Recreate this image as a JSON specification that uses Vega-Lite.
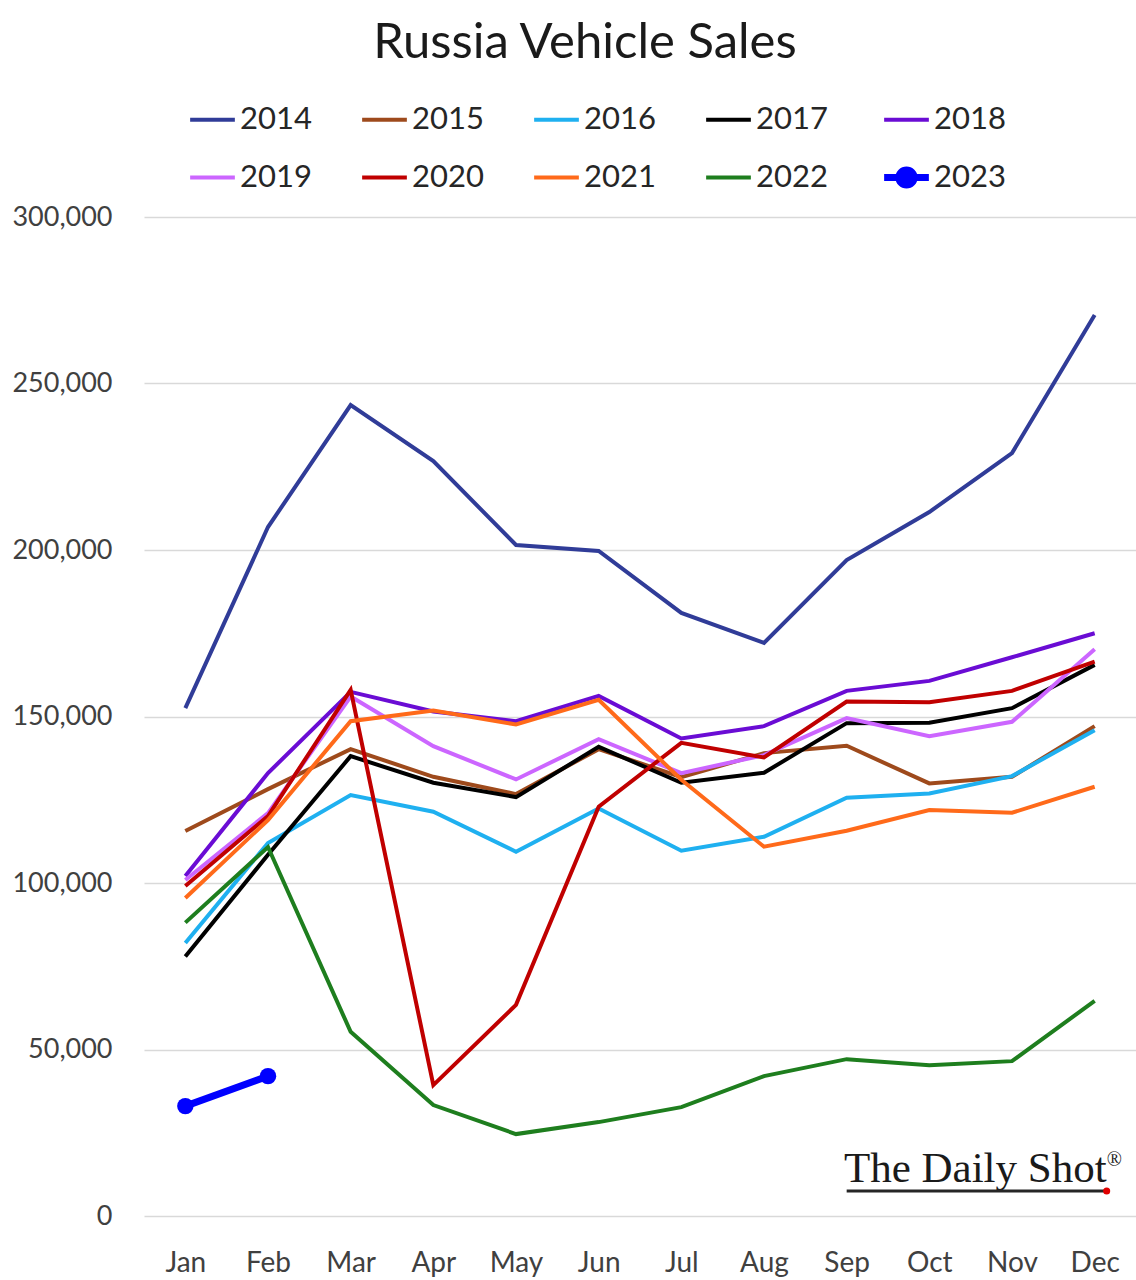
{
  "$schema": "https://vega.github.io/schema/vega-lite/v6.json",
  "width": 992,
  "height": 999,
  "autosize": "none",
  "padding": {"left": 144, "top": 217, "right": 0, "bottom": 64},
  "background": "white",
  "config": {"view": {"stroke": null}},
  "title": {
    "text": "Russia Vehicle Sales",
    "font": "Lato",
    "fontSize": 49,
    "fontWeight": "normal",
    "color": "#1a1a1a",
    "anchor": "middle",
    "dx": -55,
    "offset": 36
  },
  "data": {
    "values": [
      {"year": "2014", "month": "Jan", "sales": 152500}, {"year": "2014", "month": "Feb", "sales": 206900}, {"year": "2014", "month": "Mar", "sales": 243500}, {"year": "2014", "month": "Apr", "sales": 226700}, {"year": "2014", "month": "May", "sales": 201500}, {"year": "2014", "month": "Jun", "sales": 199700}, {"year": "2014", "month": "Jul", "sales": 181100}, {"year": "2014", "month": "Aug", "sales": 172100}, {"year": "2014", "month": "Sep", "sales": 197000}, {"year": "2014", "month": "Oct", "sales": 211400}, {"year": "2014", "month": "Nov", "sales": 229100}, {"year": "2014", "month": "Dec", "sales": 270600},
      {"year": "2015", "month": "Jan", "sales": 115600}, {"year": "2015", "month": "Feb", "sales": 128200}, {"year": "2015", "month": "Mar", "sales": 140200}, {"year": "2015", "month": "Apr", "sales": 131900}, {"year": "2015", "month": "May", "sales": 126700}, {"year": "2015", "month": "Jun", "sales": 140200}, {"year": "2015", "month": "Jul", "sales": 131800}, {"year": "2015", "month": "Aug", "sales": 139000}, {"year": "2015", "month": "Sep", "sales": 141200}, {"year": "2015", "month": "Oct", "sales": 129900}, {"year": "2015", "month": "Nov", "sales": 131900}, {"year": "2015", "month": "Dec", "sales": 147100},
      {"year": "2016", "month": "Jan", "sales": 82000}, {"year": "2016", "month": "Feb", "sales": 112000}, {"year": "2016", "month": "Mar", "sales": 126400}, {"year": "2016", "month": "Apr", "sales": 121400}, {"year": "2016", "month": "May", "sales": 109400}, {"year": "2016", "month": "Jun", "sales": 122400}, {"year": "2016", "month": "Jul", "sales": 109700}, {"year": "2016", "month": "Aug", "sales": 113900}, {"year": "2016", "month": "Sep", "sales": 125600}, {"year": "2016", "month": "Oct", "sales": 126900}, {"year": "2016", "month": "Nov", "sales": 132100}, {"year": "2016", "month": "Dec", "sales": 145900},
      {"year": "2017", "month": "Jan", "sales": 77900}, {"year": "2017", "month": "Feb", "sales": 108500}, {"year": "2017", "month": "Mar", "sales": 138100}, {"year": "2017", "month": "Apr", "sales": 130100}, {"year": "2017", "month": "May", "sales": 125800}, {"year": "2017", "month": "Jun", "sales": 140900}, {"year": "2017", "month": "Jul", "sales": 130100}, {"year": "2017", "month": "Aug", "sales": 133100}, {"year": "2017", "month": "Sep", "sales": 148000}, {"year": "2017", "month": "Oct", "sales": 148100}, {"year": "2017", "month": "Nov", "sales": 152500}, {"year": "2017", "month": "Dec", "sales": 165500},
      {"year": "2018", "month": "Jan", "sales": 102100}, {"year": "2018", "month": "Feb", "sales": 133000}, {"year": "2018", "month": "Mar", "sales": 157400}, {"year": "2018", "month": "Apr", "sales": 151500}, {"year": "2018", "month": "May", "sales": 148600}, {"year": "2018", "month": "Jun", "sales": 156200}, {"year": "2018", "month": "Jul", "sales": 143400}, {"year": "2018", "month": "Aug", "sales": 147100}, {"year": "2018", "month": "Sep", "sales": 157700}, {"year": "2018", "month": "Oct", "sales": 160700}, {"year": "2018", "month": "Nov", "sales": 167800}, {"year": "2018", "month": "Dec", "sales": 175000},
      {"year": "2019", "month": "Jan", "sales": 100900}, {"year": "2019", "month": "Feb", "sales": 121000}, {"year": "2019", "month": "Mar", "sales": 156000}, {"year": "2019", "month": "Apr", "sales": 141100}, {"year": "2019", "month": "May", "sales": 131100}, {"year": "2019", "month": "Jun", "sales": 143200}, {"year": "2019", "month": "Jul", "sales": 133000}, {"year": "2019", "month": "Aug", "sales": 138400}, {"year": "2019", "month": "Sep", "sales": 149500}, {"year": "2019", "month": "Oct", "sales": 144100}, {"year": "2019", "month": "Nov", "sales": 148400}, {"year": "2019", "month": "Dec", "sales": 170200},
      {"year": "2020", "month": "Jan", "sales": 99100}, {"year": "2020", "month": "Feb", "sales": 120100}, {"year": "2020", "month": "Mar", "sales": 158000}, {"year": "2020", "month": "Apr", "sales": 39300}, {"year": "2020", "month": "May", "sales": 63400}, {"year": "2020", "month": "Jun", "sales": 122900}, {"year": "2020", "month": "Jul", "sales": 142100}, {"year": "2020", "month": "Aug", "sales": 137700}, {"year": "2020", "month": "Sep", "sales": 154500}, {"year": "2020", "month": "Oct", "sales": 154300}, {"year": "2020", "month": "Nov", "sales": 157700}, {"year": "2020", "month": "Dec", "sales": 166500},
      {"year": "2021", "month": "Jan", "sales": 95500}, {"year": "2021", "month": "Feb", "sales": 118900}, {"year": "2021", "month": "Mar", "sales": 148600}, {"year": "2021", "month": "Apr", "sales": 151800}, {"year": "2021", "month": "May", "sales": 147600}, {"year": "2021", "month": "Jun", "sales": 155000}, {"year": "2021", "month": "Jul", "sales": 131000}, {"year": "2021", "month": "Aug", "sales": 110900}, {"year": "2021", "month": "Sep", "sales": 115700}, {"year": "2021", "month": "Oct", "sales": 121900}, {"year": "2021", "month": "Nov", "sales": 121100}, {"year": "2021", "month": "Dec", "sales": 128900},
      {"year": "2022", "month": "Jan", "sales": 88100}, {"year": "2022", "month": "Feb", "sales": 110800}, {"year": "2022", "month": "Mar", "sales": 55300}, {"year": "2022", "month": "Apr", "sales": 33300}, {"year": "2022", "month": "May", "sales": 24600}, {"year": "2022", "month": "Jun", "sales": 28200}, {"year": "2022", "month": "Jul", "sales": 32700}, {"year": "2022", "month": "Aug", "sales": 42000}, {"year": "2022", "month": "Sep", "sales": 47100}, {"year": "2022", "month": "Oct", "sales": 45300}, {"year": "2022", "month": "Nov", "sales": 46500}, {"year": "2022", "month": "Dec", "sales": 64600},
      {"year": "2023", "month": "Jan", "sales": 33000}, {"year": "2023", "month": "Feb", "sales": 42000}
    ]
  },
  "layer": [
    {
      "transform": [{"filter": "datum.year !== '2023'"}],
      "mark": {"type": "line", "strokeWidth": 4},
      "encoding": {
        "x": {
          "field": "month", "type": "ordinal",
          "sort": ["Jan", "Feb", "Mar", "Apr", "May", "Jun", "Jul", "Aug", "Sep", "Oct", "Nov", "Dec"],
          "scale": {"type": "point", "padding": 0.5},
          "axis": {"title": null, "labelAngle": 0, "labelFont": "Lato", "labelFontSize": 28, "labelColor": "#404040", "domain": false, "ticks": false, "labelPadding": 33, "grid": false}
        },
        "y": {
          "field": "sales", "type": "quantitative",
          "scale": {"domain": [0, 300000], "nice": false},
          "axis": {"title": null, "values": [0, 50000, 100000, 150000, 200000, 250000, 300000], "format": ",.0f", "labelFont": "Lato", "labelFontSize": 27, "labelColor": "#404040", "domain": false, "ticks": false, "labelPadding": 32, "gridColor": "#d9d9d9", "gridWidth": 1.5}
        },
        "color": {
          "field": "year", "type": "nominal",
          "scale": {
            "domain": ["2014", "2015", "2016", "2017", "2018", "2019", "2020", "2021", "2022", "2023"],
            "range": ["#303c98", "#9e4a1c", "#1fb0f0", "#000000", "#6a0cd4", "#cc66ff", "#c00000", "#ff6a1a", "#1e7e1e", "#0000ff"]
          },
          "legend": {
            "title": null,
            "orient": "none",
            "legendX": 53,
            "legendY": -113,
            "direction": "horizontal",
            "columns": 5,
            "columnPadding": 42,
            "rowPadding": 20,
            "padding": 0,
            "symbolType": {"expr": "datum.value === '2023' ? 'M-1,0L1,0M0.34,0A0.34,0.34,0,1,1,-0.34,0A0.34,0.34,0,1,1,0.34,0Z' : 'stroke'"},
            "symbolFillColor": {"expr": "datum.value === '2023' ? '#0000ff' : 'transparent'"},
            "symbolStrokeWidth": {"expr": "datum.value === '2023' ? 7 : 4"},
            "symbolSize": 2000,
            "labelFont": "Lato",
            "labelFontSize": 31,
            "labelColor": "#262626",
            "labelOffset": 12
          }
        }
      }
    },
    {
      "transform": [{"filter": "datum.year === '2023'"}],
      "mark": {"type": "line", "strokeWidth": 7},
      "encoding": {
        "x": {"field": "month", "type": "ordinal", "sort": ["Jan", "Feb", "Mar", "Apr", "May", "Jun", "Jul", "Aug", "Sep", "Oct", "Nov", "Dec"]},
        "y": {"field": "sales", "type": "quantitative"},
        "color": {"field": "year", "type": "nominal"}
      }
    },
    {
      "transform": [{"filter": "datum.year === '2023'"}],
      "mark": {"type": "point", "filled": true, "opacity": 1, "size": 270, "color": "#0000ff"},
      "encoding": {
        "x": {"field": "month", "type": "ordinal", "sort": ["Jan", "Feb", "Mar", "Apr", "May", "Jun", "Jul", "Aug", "Sep", "Oct", "Nov", "Dec"]},
        "y": {"field": "sales", "type": "quantitative"}
      }
    },
    {
      "data": {"values": [{"label": "The Daily Shot"}]},
      "mark": {"type": "text", "font": "Liberation Serif", "fontSize": 43, "fontWeight": "normal", "color": "#1a1a1a", "align": "right", "baseline": "alphabetic", "dx": 12},
      "encoding": {
        "x": {"datum": "Dec"},
        "y": {"datum": 10200},
        "text": {"field": "label"}
      }
    },
    {
      "data": {"values": [{"label": "®"}]},
      "mark": {"type": "text", "font": "Liberation Serif", "fontSize": 20, "color": "#1a1a1a", "align": "left", "baseline": "alphabetic", "dx": 12, "dy": -16},
      "encoding": {
        "x": {"datum": "Dec"},
        "y": {"datum": 10200},
        "text": {"field": "label"}
      }
    },
    {
      "data": {"values": [{"label": "underline"}]},
      "mark": {"type": "rule", "color": "#262626", "strokeWidth": 3, "x2Offset": 12},
      "encoding": {
        "x": {"datum": "Sep"},
        "x2": {"datum": "Dec"},
        "y": {"datum": 7500}
      }
    },
    {
      "data": {"values": [{"label": "dot"}]},
      "mark": {"type": "point", "filled": true, "opacity": 1, "size": 50, "color": "#e00000", "xOffset": 12},
      "encoding": {
        "x": {"datum": "Dec"},
        "y": {"datum": 7500}
      }
    }
  ]
}
